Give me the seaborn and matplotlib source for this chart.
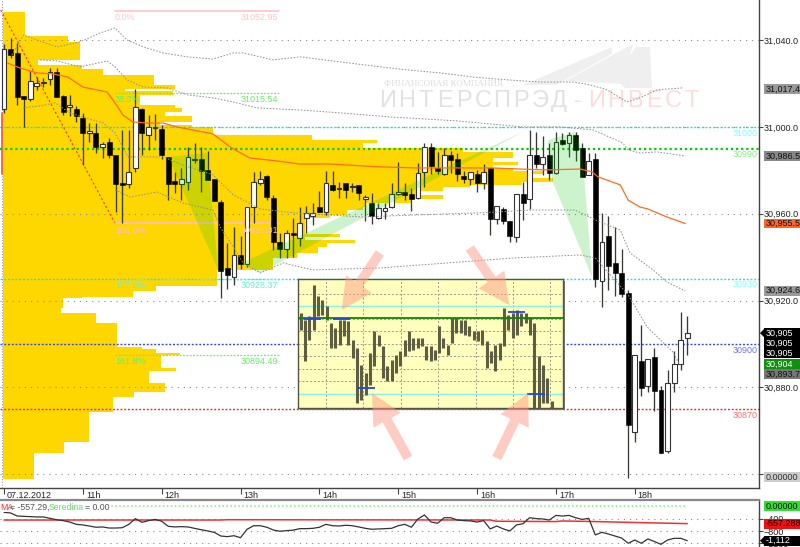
import numpy as np
import matplotlib
matplotlib.use("Agg")
import matplotlib.pyplot as plt
import seaborn as sns
from matplotlib.patches import Polygon, Rectangle
from matplotlib.transforms import Affine2D
from matplotlib.ticker import FuncFormatter

# ---------- candles (5 min bars, price) ----------
opens = [31008.3,31036,31034.1,31014.3,31012.9,31018.9,31020.3,31022.1,31025.4,31014.3,31009.2,31008.3,31004.1,30997.2,30997.2,30990.8,30993.1,30987.1,30974.2,30973.7,30981.1,31008.3,30996.3,30999.5,30999.1,30986.2,30975.1,30973.7,30974.6,30984.8,30985.2,30980.2,30976,30965.4,30935,30930.9,30941,30936.8,30963.1,30974.2,30977.4,30967.3,30947,30943.8,30951.1,30948.8,30958,30959,30963.1,30960.8,30973.3,30971.4,30974.2,30972.3,30973.3,30966.8,30965,30958,30961.3,30963.1,30969.1,30970,30969.1,30967.3,30979.3,30990.8,30981.1,30978.3,30987.1,30985.2,30977.4,30976,30978.3,30974.2,30981.1,30957.6,30962.2,30956.7,30949.3,30969.1,30966.8,30987.1,30982.9,30987.1,30978.8,30994,30992.6,30996.3,30990.3,30977.9,30985.2,30929,30949.7,30937.3,30932.7,30923.5,30859.4,30892.1,30880.6,30894,30878.8,30850.6,30882,30890.7,30902.7]
highs = [31038.3,31041,31038.7,31014.3,31025.8,31023,31022.6,31027.2,31027.2,31014.8,31014.8,31009.7,31006.5,31001.8,31001.8,30993.1,30994.9,30987.1,30998.6,30998.6,31017.5,31008.8,31005.5,31006,31000.9,30986.2,30979.3,30981.1,30990.8,30992.6,30990.8,30988.9,30976,30966.3,30946.5,30953.9,30949.7,30963.1,30979.3,30979.7,30977.9,30968.7,30951.1,30952.5,30958,30963.1,30963.6,30965,30970.5,30979.7,30979.7,30974.6,30974.2,30974.2,30973.3,30968.7,30969.6,30965,30965,30974.2,30983.9,30974.2,30971.9,30983.4,30992.6,30992.6,30988.5,30990.3,30988.9,30988,30979.7,30979.3,30980.2,30982.9,30981.1,30963.6,30963.1,30956.7,30969.1,30974.6,30998.6,30997.7,30995.9,30992.6,30997.7,30997.2,30997.7,30997.7,30992.6,30988,30988,30960.4,30959,30953.9,30943.8,30924.9,30894.9,30908.7,30893,30898.1,30880.6,30888,30896.7,30914.7,30912.9]
lows = [31006.5,31031.8,31010.1,31000,31012,31017.1,31018.4,31019.4,31013.8,31005.5,31005.1,31002.3,30982.5,30993.1,30988,30985.7,30985.7,30960.8,30955.7,30971.9,30979.3,30987.1,30989.4,30994,30985.2,30966.3,30969.6,30966.3,30971,30983.4,30970,30975.6,30965.9,30921.2,30925.3,30927.2,30934.5,30935.4,30955.7,30973.3,30966.3,30943.3,30939.6,30939.6,30940.1,30945.1,30951.1,30954.8,30960.8,30959.4,30970.5,30967.3,30967.3,30970,30966.3,30956.7,30955.3,30957.6,30957.6,30962.7,30968.7,30966.3,30961.3,30966.8,30972.3,30978.3,30978.3,30977.9,30978.8,30975.1,30974.2,30973.3,30970,30971.4,30950.2,30955.3,30955.3,30947,30947,30957.1,30962.2,30981.1,30977.9,30975.6,30978.3,30991.7,30986.2,30984.3,30977,30977.9,30926.2,30917,30924.9,30922.1,30921.6,30838.2,30854.8,30876,30877.8,30869,30849.7,30849.7,30877.8,30888,30894.9]
closes = [31036,31033.2,31013.8,31012.9,31021.2,31020.3,31020.3,31025.4,31013.8,31006.9,31010.1,31005.1,30997.2,30998.2,30990.8,30992.2,30987.1,30973.7,30973.3,30979.3,31009.2,30997.2,31000,30999.5,30987.1,30973.7,30973.7,30976,30986.2,30984.8,30979.7,30975.6,30965.9,30933.6,30931.8,30941,30936.8,30963.1,30974.6,30976,30967.7,30947,30943.8,30951.1,30950.2,30955.7,30960.4,30960.4,30960.8,30974.2,30971,30971.9,30971,30972.3,30969.6,30967.7,30959,30962.7,30962.7,30969.1,30970,30968.7,30966.8,30978.8,30990.8,30982,30979.7,30987.1,30984.8,30978.3,30976,30979.3,30974.2,30979.3,30957.6,30963.6,30956.7,30949.7,30969.1,30965,30987.1,30982.9,30986.2,30978.8,30993.1,30992.2,30996.3,30989.4,30977,30984.3,30930,30947,30935.9,30932.7,30923,30862.6,30894.9,30879.7,30893,30878.3,30849.7,30882,30890.7,30901.8,30905]

# ---------- indicator lines on price panel (bar index, price) ----------
ma_x = [0.5,2.4,5,7.5,9.7,12,15.7,16.9,18.1,19.6,21.8,24.2,26.3,31.8,34.4,37.4,41.6,45,49.6,57.2,62.9,69.4,74.4,78.5,82.6,87.7,89.5,90.4,93.8,95,96.8,98,100.9,103.7]
ma_y = [31029.5,31027.2,31024.9,31024.4,31023,31018.4,31016.1,31011.1,31005.5,31002.3,31001.8,31001.8,31000,30996.8,30990.8,30985.7,30984.3,30982.9,30982.9,30981.6,30981.1,30981.1,30981.1,30980.6,30980.2,30980.6,30979.3,30977,30973.3,30966.3,30963.1,30962.2,30958.5,30955.5]
band_a_x = [1.2,3,5.8,8.1,11.6,14.6,16.9,18.7,21.2,24.2,27.9,31.8,34.9,36.4,39,40.9,45.1,51.1,56.2,61.3,66.4,71.4,76.6,81.6,86.6,89.2,91.8,94.8,96.8,99.4,103.3]
band_a_y = [31033.2,31042.4,31039.2,31036.9,31039.2,31043.3,31045.6,31040.1,31036.9,31034.1,31032.3,31031.3,31034.1,31034.1,31032.3,31030.9,31032.3,31030,31028.1,31026.3,31024.9,31023,31021.7,31020.7,31020.7,31019.4,31017.1,31011.5,31013.4,31017.1,31018]
band_b_x = [5.5,8.1,11.6,15.7,16.9,18.7,21.2,24.8,27.9,31.8,34.9,38.5,45.1,51.1,58.8,68.9,79,84.6,89.7,94.2,95,96.8,99.4,103.7]
band_b_y = [31030.9,31030.4,31027.7,31030.4,31027.7,31021.7,31018.4,31018,31014.8,31013.4,31011.5,31008.8,31007.8,31006.5,31004.6,31002.8,31000,31000,30998.6,30992.6,30989.4,30988,30988.5,30986.6]
band_c_x = [2.9,5.5,7.8,10,12,15.1,16.9,18.9,21.8,24.2,27.2,31.8,34.9,39,44,54.6,62.3,72.5,80.1,86.9,90.7,93.8,95.3,98.8,100.9,103.7]
band_c_y = [31008.8,31009.7,31011.1,31006.5,31004.6,31001.8,30997.2,30986.2,30986.2,30986.2,30982.5,30977.9,30968.7,30962.2,30960.4,30958.5,30959.4,30960.4,30961.7,30961.7,30956.2,30952.5,30941.9,30934.1,30928.5,30924.4]
band_d_x = [16.9,19.2,23.3,27.2,31.8,32.9,34.9,36.4,39,42.5,47,57.2,67.4,77.5,87.7,90,95,97.9,101.8,102.9]
band_d_y = [30971,30967.7,30970,30965,30961.7,30953.9,30944.7,30937.3,30932.7,30937.3,30934.1,30935,30937.3,30939.6,30941,30939.6,30922.6,30907.8,30896.3,30890.2]

# ---------- volume profile (price edges, volume per band) ----------
profile_edges = [31053,31042,31039.2,31030.9,31028.6,31026.7,31024,31019.4,31017.5,31016.6,31014.8,31010.1,31008.8,31006.9,31005.1,31002.3,31000.9,31000,30996.3,30994,30992.6,30990.3,30988.5,30985.7,30983.9,30982.5,30981.1,30979.7,30978.3,30976.5,30974.6,30973.3,30972.3,30970.5,30968.7,30966.8,30965,30963.1,30961.7,30959.4,30958,30950.7,30949.3,30947.9,30946.5,30944.7,30941.9,30939.6,30934.1,30930.9,30926.7,30924.4,30921.6,30921.2,30916.6,30914.3,30909.6,30898.6,30897.7,30895.8,30894.9,30888.9,30887.5,30882,30877.8,30875.5,30868.6,30854.8,30849.7,30837.7]
profile_vol = [22,65,77,35,79,100,151,172,122,170,137,172,179,162,189,157,189,210,309,374,360,460,510,490,515,490,510,540,525,550,519,467,440,417,440,409,362,360,344,327,302,337,302,352,324,315,294,270,214,214,153,130,79,60,58,93,114,139,153,177,158,173,146,162,131,110,86,61,31]

# ---------- price levels ----------
level_prices = [31000, 30990, 30930, 30900, 30870]
level_labels = ["31000", "30990", "30930", "30900", "30870"]
level_colors = ["#20E0E0", "#00CC00", "#20E0E0", "#3344EE", "#FF2020"]
level_text_colors = ["#7FFFFF", "#88EE88", "#7FFFFF", "#7070FF", "#FF7070"]

fib_pct = ["0.0%", "38.2%", "100.0%", "127.2%", "161.8%"]
fib_vals = ["31052.95", "31015.54", "30955.01", "30928.37", "30894.49"]
fib_line = [31053.6, 31015.7, 30955.5, 30930, 30894.9]
fib_colors = ["#FFC4C4", "#66EE66", "#FFBBDD", "#66EEDD", "#66EE66"]

side_prices = [31017.4, 30986.5, 30955.5, 30924.6, 30905.0, 30900.4, 30895.8, 30890.7, 30886.1, 30838.6]
side_text = ["31,017.4", "30,986.5", "30,955.5", "30,924.6", "30,905", "30,905", "30,905", "30,904", "30,893.7", "0.00000"]
side_bg = ["#999999", "#888888", "#FF6622", "#999999", "#000000", "#000000", "#000000", "#109010", "#777777", "#CCCCCC"]
side_fg = ["#111111", "#111111", "#111111", "#111111", "#FFFFFF", "#FFFFFF", "#FFFFFF", "#FFFFFF", "#111111", "#333333"]

hour_labels = ["07.12.2012", "11h", "12h", "13h", "14h", "15h", "16h", "17h", "18h"]
y_ticks = [31040, 31000, 30960, 30920, 30880, 30840]

# ---------- oscillator ----------
osc = [-190,-210,-310,-320,-330,-340,-340,-385,-430,-460,-505,-580,-600,-635,-675,-665,-700,-700,-690,-580,-395,-515,-460,-420,-480,-645,-665,-655,-665,-710,-755,-795,-840,-960,-980,-950,-1015,-740,-625,-625,-675,-765,-805,-785,-770,-720,-720,-710,-675,-580,-625,-635,-610,-625,-665,-710,-740,-730,-720,-710,-625,-580,-675,-405,-275,-505,-545,-365,-365,-440,-460,-470,-505,-460,-730,-635,-730,-795,-600,-560,-365,-395,-405,-440,-290,-310,-290,-365,-420,-385,-925,-840,-895,-960,-1025,-1195,-1090,-1195,-1055,-1140,-1230,-1090,-1035,-1035,-1112]
sma_x = [0, 33, 34, 74, 75, 84, 85, 90, 97, 104]
sma_y = [-440, -440, -430, -440, -480, -490, -470, -490, -525, -557.29]
mid_x = [0, 104]
mid_y = [0, 0]
osc_side_values = [0, -557.29, -1112]
osc_side_text = ["0.00000", "-557.288", "-1,112"]
osc_side_bg = ["#33DD33", "#EE1111", "#000000"]
osc_side_fg = ["#111111", "#220000", "#FFFFFF"]

# ---------- small picture of an earlier session, inset ----------
inset_hi = [285,265,275,370,335,325,305,255,240,265,265,260,205,180,130,105,165,230,220,185,125,145,160,170,205,230,210,210,210,185,185,175,245,210,190,270,270,265,265,245,230,230,235,200,170,190,195,300,280,285,295,285,285,270,255,155,130,90,20]
inset_lo = [235,140,205,235,275,280,265,180,180,190,215,190,150,15,25,40,70,125,185,90,80,80,105,125,155,170,175,180,185,145,140,145,165,180,160,195,225,225,220,215,205,200,190,120,135,110,145,185,235,210,220,245,255,220,0,0,15,15,0]
inset_marks_x0 = [0.9, 7.5, 13.1, 47.8, 52.2]
inset_marks_x1 = [4.8, 11.4, 17.1, 51.8, 56.5]
inset_marks_y = [268, 268, 60, 287, 42]

sns.set_theme(style="white")
plt.rcParams["font.family"] = ["Liberation Sans", "DejaVu Sans"]

W, H = 800, 547
FS = 6.5
fig = plt.figure(figsize=(8, 5.47), dpi=100, facecolor="white")
def box(l, t, r, b):
    return [l / W, 1 - b / H, (r - l) / W, (b - t) / H]

px = Affine2D().scale(1, -1).translate(0, H)  # decoration placed in picture pixels

n = len(opens)
idx = np.arange(n)
PX_PER_BAR = 6.57
xlim = (-4 / PX_PER_BAR, (759 - 4) / PX_PER_BAR)
ylim = (30833.6, 31058.5)

ax_vol = fig.add_axes(box(0, 0, 759, 488), zorder=0)
ax = fig.add_axes(box(0, 0, 759, 488), zorder=1)
ax.patch.set_visible(False)

# volume profile
ax_vol.set_xlim(-3, 756)
ax_vol.set_ylim(*ylim)
edges = np.array(profile_edges)
ax_vol.barh(edges[1:], profile_vol, height=edges[:-1] - edges[1:], align="edge", color="#FFD700", linewidth=0)
ax_vol.axis("off")

ax.set_xlim(*xlim)
ax.set_ylim(*ylim)

# watermark
word = "ИНТЕРСПРЭД-ИНВЕСТ"
for k, ch in enumerate(word):
    ax.text(388 + 19 * k, 101, ch, transform=px, ha="center", va="center", fontsize=17,
            color="#E2E2E2" if k < 10 else "#FFDCDC", zorder=0.5)
ax.text(443, 84, "ФИНАНСОВАЯ КОМПАНИЯ", transform=px, ha="center", va="center", fontsize=6.6,
        family="Liberation Serif", color="#DDDDDD", zorder=0.5)
for pts in ([(523, 85), (612, 47), (612, 54), (556, 85)],
            [(565, 81), (633, 44), (622, 84)],
            [(614, 77), (636, 47), (650, 47), (652, 88), (625, 88)]):
    ax.add_patch(Polygon(pts, closed=True, transform=px, facecolor="#EFEFEF", edgecolor="none", zorder=0.5))

# gridlines and axis
ax.yaxis.tick_right()
ax.set_yticks(y_ticks)
ax.yaxis.set_major_formatter(FuncFormatter(lambda v, _: f"{v:,.1f}"))
ax.tick_params(axis="y", length=3, width=0.8, color="#444444", labelsize=FS, labelcolor="#222222", pad=0.3, right=True)
ax.grid(axis="y", color="#888888", lw=0.8, ls=(0, (1, 4.5)))
ax.set_axisbelow(True)
ax.set_xticks(np.arange(0, 97, 12))
ax.set_xticklabels(hour_labels)
ax.tick_params(axis="x", length=4, width=0.8, color="#444444", labelsize=FS, labelcolor="#222222", pad=-2, bottom=True)
for lab in ax.get_xticklabels():
    lab.set_horizontalalignment("left")
    lab.set_transform(lab.get_transform() + Affine2D().translate(3, 0))
for s in ("top", "left"):
    ax.spines[s].set_visible(False)
for s in ("right", "bottom"):
    ax.spines[s].set_color("#444444")
    ax.spines[s].set_linewidth(1.0)

# levels
for p, lab, c, tc in zip(level_prices, level_labels, level_colors, level_text_colors):
    thick = lab == "30990"
    ax.axhline(p, color=c, lw=1.6 if thick else 1.0, ls=(0, (1, 1.3)) if thick else (0, (1.4, 1.3)), zorder=1.5)
    ax.annotate(lab, xy=(1, p), xycoords=("axes fraction", "data"), xytext=(-1, -1.2),
                textcoords="offset points", ha="right", va="top", fontsize=FS, color=tc, zorder=5)

# fibonacci
ax.plot([-0.5, 16.9], [31053.9, 30955.5], color="#FF3030", lw=0.8, ls=(0, (2, 2)), zorder=1.6)
for pct, val, y, c, k in zip(fib_pct, fib_vals, fib_line, fib_colors, range(5)):
    solid = k in (0, 2)
    ax.plot([16.9, 41.8], [y, y], color=c, lw=1.2 if solid else 0.9, ls="-" if solid else (0, (1.5, 1.2)), zorder=1.6)
    ax.annotate(pct, xy=(16.9, y), xytext=(0, -1.5), textcoords="offset points", ha="left", va="top",
                fontsize=FS, color=c, zorder=6)
    ax.annotate(val, xy=(41.8, y), xytext=(0, -1.5), textcoords="offset points", ha="right", va="top",
                fontsize=FS, color=c, zorder=6)

# left rail
ax.axvline(-0.38, color="#999999", lw=0.8, ls=(0, (1, 1.5)), zorder=1.6)
ax.plot([-0.38, -0.38], [31006.5, 30978.5], color="#FF5030", lw=1.2, zorder=1.7)

# candles
o, h, l, c = map(np.array, (opens, highs, lows, closes))
up = c >= o
ax.vlines(idx, l, h, color="#3A3A32", lw=0.95, zorder=3)
tops, bots = np.maximum(o, c), np.minimum(o, c)
hts = np.maximum(tops - bots, 0.35)
ax.bar(idx[up], hts[up], bottom=bots[up], width=0.72, color="white", edgecolor="#333333", linewidth=0.8, zorder=3.2)
ax.bar(idx[~up], hts[~up], bottom=bots[~up], width=0.76, color="black", edgecolor="black", linewidth=0.4, zorder=3.2)

# harmonic pattern shades
shade_a = [(25, 30986.2), (30.9, 30988), (32.6, 30934.1)]
shade_b = [(36.2, 30937.3), (39, 30932.7), (79.3, 30998.2)]
shade_c = [(83.4, 30975.6), (89.5, 30930.9), (88, 30989.4), (86.9, 30997.7), (82.8, 30994)]
for shade in (shade_a, shade_b, shade_c):
    ax.add_patch(Polygon(shade, closed=True, facecolor=(0, 0.78, 0), alpha=0.2, edgecolor="none", zorder=3.5))

# moving lines
sns.lineplot(x=ma_x, y=ma_y, ax=ax, color="#FF6A20", lw=0.9, sort=False, estimator=None, zorder=4, legend=False)
for bx, by in ((band_a_x, band_a_y), (band_b_x, band_b_y), (band_c_x, band_c_y), (band_d_x, band_d_y)):
    sns.lineplot(x=bx, y=by, ax=ax, color="#909090", lw=0.7, ls=(0, (1.6, 1.6)), sort=False, estimator=None, zorder=4, legend=False)
ax.set_xlabel("")
ax.set_ylabel("")
ax.set_xlim(*xlim)
ax.set_ylim(*ylim)

def side_tag(axis, value, text, bg, fg, height, pointer=False):
    tf = axis.get_yaxis_transform()
    axis.add_patch(Rectangle((1 + 5 / 759, value - height / 2), 36 / 759, height, transform=tf,
                             facecolor=bg, edgecolor="none", clip_on=False, zorder=6.5))
    if pointer:
        axis.add_patch(Polygon([(1 + 1 / 759, value), (1 + 6 / 759, value + height / 2), (1 + 6 / 759, value - height / 2)],
                               closed=True, transform=tf, facecolor=bg, edgecolor="none", clip_on=False, zorder=6.5))
    axis.annotate(text, xy=(1, value), xycoords=("axes fraction", "data"), xytext=(5.0, 0), textcoords="offset points",
                  ha="left", va="center", fontsize=FS, color=fg, zorder=7, annotation_clip=False)

# boxed prices on the right
for k, (p, t, bg, fg) in enumerate(zip(side_prices, side_text, side_bg, side_fg)):
    side_tag(ax, p, t, bg, fg, 4.6, pointer=k == 4)

# lower panel
ax2 = fig.add_axes(box(0, 500, 759, 547), zorder=1)
ax2.set_xlim(*xlim)
ax2.set_ylim(-1317, 211)
sns.lineplot(x=mid_x, y=mid_y, ax=ax2, color="#77EE77", lw=1.1, ls=(0, (1, 1.6)), estimator=None, legend=False)
sns.lineplot(x=sma_x, y=sma_y, ax=ax2, color="#F03030", lw=1.1, estimator=None, legend=False)
sns.lineplot(x=idx, y=osc, ax=ax2, color="#333333", lw=0.9, estimator=None, legend=False)
ax2.set_xlabel("")
ax2.set_ylabel("")
ax2.set_xticks([])
ax2.yaxis.tick_right()
ax2.set_yticks([-400, -800, -1200])
ax2.tick_params(axis="y", length=3, width=0.8, color="#444444", labelsize=FS, labelcolor="#222222", pad=0.3, right=True)
ax2.grid(axis="y", color="#888888", lw=0.8, ls=(0, (1, 4.5)))
ax2.set_axisbelow(True)
for s in ("left", "bottom"):
    ax2.spines[s].set_visible(False)
ax2.spines["top"].set_color("#888888")
ax2.spines["top"].set_linewidth(1.6)
ax2.spines["right"].set_color("#444444")
ax2.spines["right"].set_linewidth(1.0)

ax2.add_patch(Rectangle((0, 502), 111, 10, transform=px, facecolor="white", edgecolor="none", zorder=2.5))
legend_bits = [("MA", 0, "#F03030"), ("= -557.29,", 10, "#555555"), ("Seredina", 49, "#66DD66"), ("= 0.00", 85, "#555555")]
for txt, x0, col in legend_bits:
    ax2.text(x0, 507, txt, transform=px, ha="left", va="center", fontsize=FS - 0.2, color=col, zorder=3)
for k, (val, t, bg, fg) in enumerate(zip(osc_side_values, osc_side_text, osc_side_bg, osc_side_fg)):
    side_tag(ax2, val, t, bg, fg, 325, pointer=k == 2)

# inset
ax.add_patch(Rectangle((300, 281), 265, 129, transform=px, facecolor="#777777", edgecolor="none", zorder=8, clip_on=False))
ins = fig.add_axes(box(298, 279, 563, 408), zorder=3)
ins.set_facecolor("#FFFFBE")
ins.set_xlim(-0.6, 60.6)
ins.set_ylim(0, 387)
ins.set_xticks([5.77, 14.46, 23.1, 31.8, 40.4, 49.1, 57.7])
ins.set_yticks([343, 305, 268, 230, 193, 155, 118, 80, 43])
ins.grid(True, color="#999988", lw=0.7, ls=(0, (2, 2)))
ins.set_axisbelow(True)
ins.tick_params(length=0, labelbottom=False, labelleft=False)
ix = np.arange(len(inset_hi))
ins.vlines(ix, inset_lo, inset_hi, color="#5E5E42", lw=2.2, zorder=3)
ins.axhline(305, color="#88F0E8", lw=1.0, zorder=2.5)
ins.axhline(43, color="#88F0E8", lw=1.0, zorder=2.5)
ins.axhline(270, color="#108010", lw=1.3, zorder=4)
ins.hlines(inset_marks_y, inset_marks_x0, inset_marks_x1, color="#2244EE", lw=1.3, zorder=4)
for s in ins.spines.values():
    s.set_color("#555544")
    s.set_linewidth(1.0)

# overlay arrows
top = fig.add_axes(box(0, 0, 759, 488), zorder=4, sharex=ax, sharey=ax)
top.patch.set_visible(False)
top.axis("off")
arrow_tails = [(57.2, 30941.9), (70.9, 30944.2), (61.5, 30847.4), (75, 30847.4)]
arrow_tips = [(51.4, 30915.6), (76.9, 30917.9), (56, 30877.4), (79.8, 30877.4)]
for tail, tip in zip(arrow_tails, arrow_tips):
    top.annotate("", xy=tip, xytext=tail, annotation_clip=False,
                 arrowprops=dict(arrowstyle="simple,head_length=1.6,head_width=1.6,tail_width=0.5",
                                 mutation_scale=14, facecolor="#FF9A88", edgecolor="none", alpha=0.5,
                                 shrinkA=0, shrinkB=0))

fig.savefig("out.png", dpi=100)
